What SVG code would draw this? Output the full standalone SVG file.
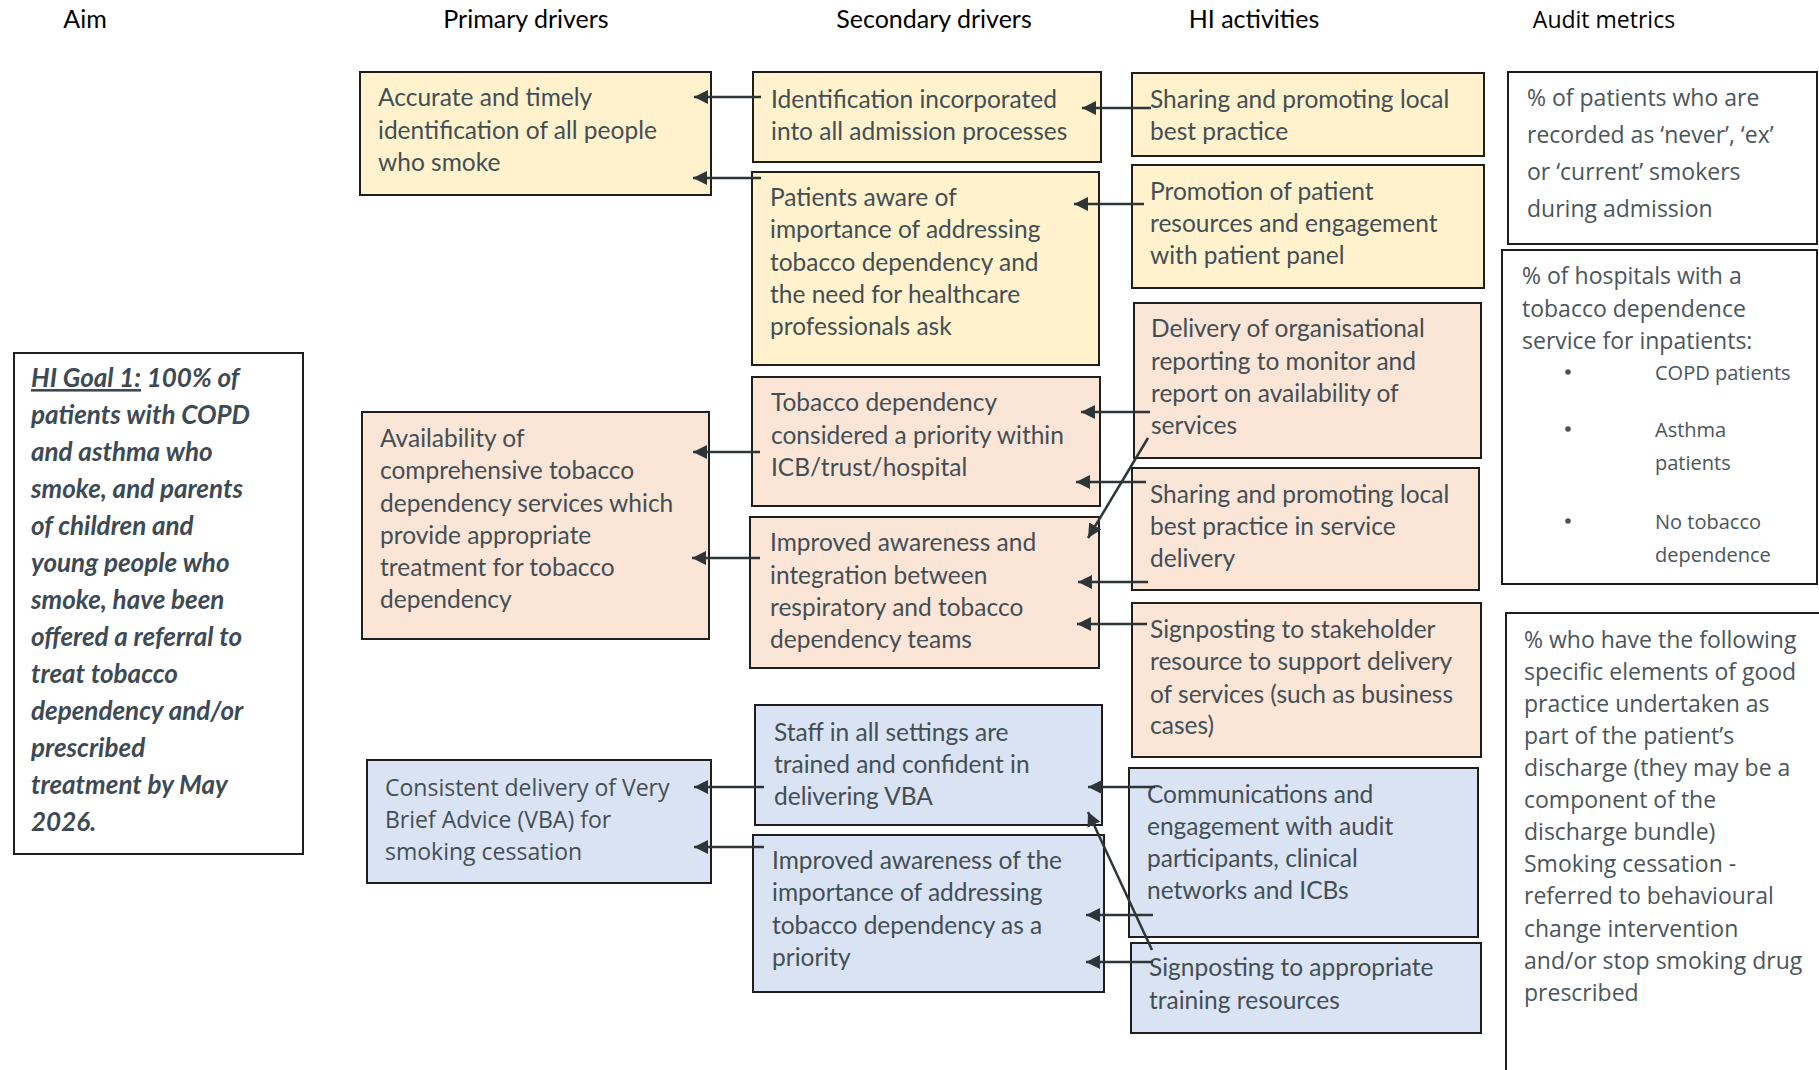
<svg xmlns="http://www.w3.org/2000/svg" width="1819" height="1070" viewBox="0 0 1819 1070">
<defs>
<marker id="ah" markerUnits="userSpaceOnUse" markerWidth="15" markerHeight="14" refX="14" refY="7" orient="auto">
<path d="M0,0 L14,7 L0,14 Z" fill="#2e3538"/>
</marker>
<style>
.hd{font-family:Lato,"Liberation Sans",sans-serif;font-size:25px;fill:#000}
.hd2{font-family:"Open Sans","Liberation Sans",sans-serif;font-size:23px;fill:#000}
.t{font-family:Lato,"Liberation Sans",sans-serif;font-size:24.5px;fill:#434e54}
.ts{font-family:"Open Sans","Liberation Sans",sans-serif;font-size:23px;fill:#434e54}
.g{font-family:Lato,"Liberation Sans",sans-serif;font-size:26px;font-weight:bold;font-style:italic;fill:#3d4a56}
.a{font-family:"Open Sans","Liberation Sans",sans-serif;font-size:23px;fill:#4a555b}
.ab{font-family:"Open Sans","Liberation Sans",sans-serif;font-size:20px;fill:#4a555b}
.box{stroke:#1e1e1e;stroke-width:2}
.y{fill:#fff2cc}
.p{fill:#fbe5d6}
.b{fill:#dae3f3}
.w{fill:#fff}
.c{fill:none;stroke:#2e3538;stroke-width:2.5;marker-end:url(#ah)}
</style>
</defs>
<rect width="1819" height="1070" fill="#fff"/>

<g id="headers">
<text class="hd" x="85" y="28" text-anchor="middle">Aim</text>
<text class="hd" x="526" y="28" text-anchor="middle">Primary drivers</text>
<text class="hd" x="934" y="28" text-anchor="middle">Secondary drivers</text>
<text class="hd" x="1254" y="28" text-anchor="middle">HI activities</text>
<text class="hd2" x="1604" y="28" text-anchor="middle">Audit metrics</text>
</g>

<g id="goal">
<rect class="box w" x="14" y="353" width="289" height="501"/>
<text class="g" x="31"><tspan x="31" y="387"><tspan text-decoration="underline">HI Goal 1:</tspan> 100% of</tspan><tspan x="31" y="424">patients with COPD</tspan><tspan x="31" y="461">and asthma who</tspan><tspan x="31" y="498">smoke, and parents</tspan><tspan x="31" y="535">of children and</tspan><tspan x="31" y="572">young people who</tspan><tspan x="31" y="609">smoke, have been</tspan><tspan x="31" y="646">offered a referral to</tspan><tspan x="31" y="683">treat tobacco</tspan><tspan x="31" y="720">dependency and/or</tspan><tspan x="31" y="757">prescribed</tspan><tspan x="31" y="794">treatment by May</tspan><tspan x="31" y="831">2026.</tspan></text>
</g>

<g id="p1">
<rect class="box y" x="360" y="72" width="351" height="123"/>
<text class="t"><tspan x="378" y="106">Accurate and timely</tspan><tspan x="378" y="138.5">identification of all people</tspan><tspan x="378" y="171">who smoke</tspan></text>
</g>
<g id="p2">
<rect class="box p" x="362" y="412" width="347" height="227"/>
<text class="t"><tspan x="380" y="447">Availability of</tspan><tspan x="380" y="479">comprehensive tobacco</tspan><tspan x="380" y="511.5">dependency services which</tspan><tspan x="380" y="544">provide appropriate</tspan><tspan x="380" y="576">treatment for tobacco</tspan><tspan x="380" y="608">dependency</tspan></text>
</g>
<g id="p3">
<rect class="box b" x="367" y="760" width="344" height="123"/>
<text class="ts"><tspan x="385" y="796">Consistent delivery of Very</tspan><tspan x="385" y="828">Brief Advice (VBA) for</tspan><tspan x="385" y="860">smoking cessation</tspan></text>
</g>

<g id="s1">
<rect class="box y" x="753" y="72" width="348" height="90"/>
<text class="t"><tspan x="771" y="108">Identification incorporated</tspan><tspan x="771" y="140">into all admission processes</tspan></text>
</g>
<g id="s2">
<rect class="box y" x="752" y="172" width="347" height="193"/>
<text class="t"><tspan x="770" y="206">Patients aware of</tspan><tspan x="770" y="238">importance of addressing</tspan><tspan x="770" y="270.5">tobacco dependency and</tspan><tspan x="770" y="303">the need for healthcare</tspan><tspan x="770" y="335">professionals ask</tspan></text>
</g>
<g id="s3">
<rect class="box p" x="752" y="377" width="348" height="129"/>
<text class="t"><tspan x="771" y="411">Tobacco dependency</tspan><tspan x="771" y="443.5">considered a priority within</tspan><tspan x="771" y="476">ICB/trust/hospital</tspan></text>
</g>
<g id="s4">
<rect class="box p" x="750" y="517" width="349" height="151"/>
<text class="t"><tspan x="770" y="551">Improved awareness and</tspan><tspan x="770" y="583.5">integration between</tspan><tspan x="770" y="616">respiratory and tobacco</tspan><tspan x="770" y="648">dependency teams</tspan></text>
</g>
<g id="s5">
<rect class="box b" x="755" y="705" width="347" height="120"/>
<text class="t"><tspan x="774" y="741">Staff in all settings are</tspan><tspan x="774" y="773">trained and confident in</tspan><tspan x="774" y="804.5">delivering VBA</tspan></text>
</g>
<g id="s6">
<rect class="box b" x="753" y="835" width="351" height="157"/>
<text class="t"><tspan x="772" y="869">Improved awareness of the</tspan><tspan x="772" y="901">importance of addressing</tspan><tspan x="772" y="934">tobacco dependency as a</tspan><tspan x="772" y="966">priority</tspan></text>
</g>

<g id="h1">
<rect class="box y" x="1132" y="73" width="352" height="83"/>
<text class="t"><tspan x="1150" y="108">Sharing and promoting local</tspan><tspan x="1150" y="140">best practice</tspan></text>
</g>
<g id="h2">
<rect class="box y" x="1132" y="165" width="352" height="123"/>
<text class="t"><tspan x="1150" y="200">Promotion of patient</tspan><tspan x="1150" y="232">resources and engagement</tspan><tspan x="1150" y="264">with patient panel</tspan></text>
</g>
<g id="h3">
<rect class="box p" x="1134" y="303" width="347" height="155"/>
<text class="t"><tspan x="1151" y="337">Delivery of organisational</tspan><tspan x="1151" y="369.5">reporting to monitor and</tspan><tspan x="1151" y="402">report on availability of</tspan><tspan x="1151" y="434">services</tspan></text>
</g>
<g id="h4">
<rect class="box p" x="1132" y="468" width="347" height="122"/>
<text class="t"><tspan x="1150" y="503">Sharing and promoting local</tspan><tspan x="1150" y="535">best practice in service</tspan><tspan x="1150" y="567">delivery</tspan></text>
</g>
<g id="h5">
<rect class="box p" x="1132" y="603" width="349" height="154"/>
<text class="t"><tspan x="1150" y="638">Signposting to stakeholder</tspan><tspan x="1150" y="670">resource to support delivery</tspan><tspan x="1150" y="702.5">of services (such as business</tspan><tspan x="1150" y="734">cases)</tspan></text>
</g>
<g id="h6">
<rect class="box b" x="1129" y="768" width="349" height="169"/>
<text class="t"><tspan x="1147" y="803">Communications and</tspan><tspan x="1147" y="834.5">engagement with audit</tspan><tspan x="1147" y="866.5">participants, clinical</tspan><tspan x="1147" y="899">networks and ICBs</tspan></text>
</g>
<g id="h7">
<rect class="box b" x="1131" y="943" width="350" height="90"/>
<text class="t"><tspan x="1149" y="976">Signposting to appropriate</tspan><tspan x="1149" y="1009">training resources</tspan></text>
</g>

<g id="a1">
<rect class="box w" x="1508" y="72" width="309" height="172"/>
<text class="a"><tspan x="1527" y="106">% of patients who are</tspan><tspan x="1527" y="143">recorded as ‘never’, ‘ex’</tspan><tspan x="1527" y="180">or ‘current’ smokers</tspan><tspan x="1527" y="216.5">during admission</tspan></text>
</g>
<g id="a2">
<rect class="box w" x="1502" y="250" width="315" height="334"/>
<text class="a"><tspan x="1522" y="284">% of hospitals with a</tspan><tspan x="1522" y="317">tobacco dependence</tspan><tspan x="1522" y="349">service for inpatients:</tspan></text>
<circle cx="1568" cy="372" r="2.8" fill="#4a555b"/>
<circle cx="1568" cy="429" r="2.8" fill="#4a555b"/>
<circle cx="1568" cy="521" r="2.8" fill="#4a555b"/>
<text class="ab"><tspan x="1655" y="380">COPD patients</tspan><tspan x="1655" y="437">Asthma</tspan><tspan x="1655" y="470">patients</tspan><tspan x="1655" y="529">No tobacco</tspan><tspan x="1655" y="562">dependence</tspan></text>
</g>
<g id="a3">
<rect class="box w" x="1506" y="613" width="330" height="480"/>
<text class="a"><tspan x="1524" y="648">% who have the following</tspan><tspan x="1524" y="680">specific elements of good</tspan><tspan x="1524" y="712">practice undertaken as</tspan><tspan x="1524" y="744">part of the patient’s</tspan><tspan x="1524" y="776">discharge (they may be a</tspan><tspan x="1524" y="808">component of the</tspan><tspan x="1524" y="840">discharge bundle)</tspan><tspan x="1524" y="872">Smoking cessation -</tspan><tspan x="1524" y="904">referred to behavioural</tspan><tspan x="1524" y="937">change intervention</tspan><tspan x="1524" y="969">and/or stop smoking drug</tspan><tspan x="1524" y="1001">prescribed</tspan></text>
</g>

<g id="connectors">
<path class="c" d="M761,97 H694"/>
<path class="c" d="M761,178 H693"/>
<path class="c" d="M760,452 H693"/>
<path class="c" d="M760,558 H692"/>
<path class="c" d="M764,787 H694"/>
<path class="c" d="M764,847 H694"/>
<path class="c" d="M1151,108 H1082"/>
<path class="c" d="M1144,204 H1074"/>
<path class="c" d="M1150,412 H1081"/>
<path class="c" d="M1148,438 L1088,538"/>
<path class="c" d="M1146,482 H1076"/>
<path class="c" d="M1148,582 H1078"/>
<path class="c" d="M1147,624 H1077"/>
<path class="c" d="M1155,787 H1088"/>
<path class="c" d="M1152,950 L1088,812"/>
<path class="c" d="M1153,915 H1086"/>
<path class="c" d="M1153,962 H1086"/>
</g>
</svg>
